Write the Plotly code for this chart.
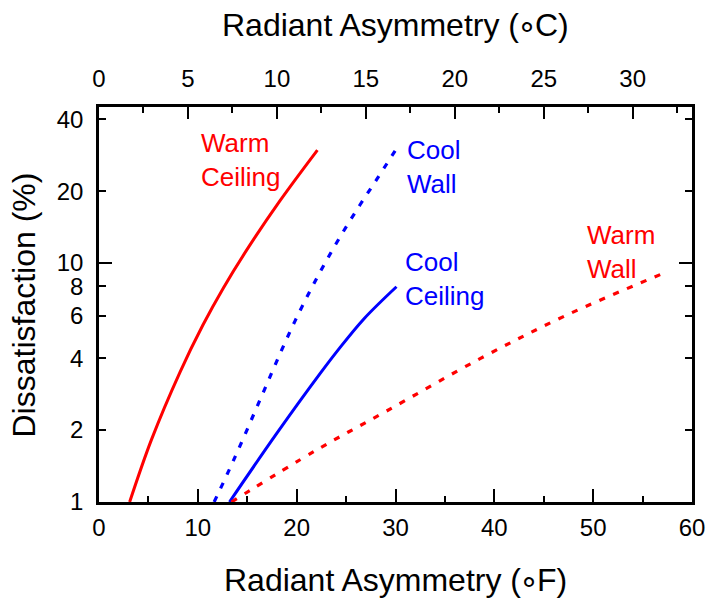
import math
import plotly.graph_objects as go

# ---- data ----
warm_ceiling_F = [3.1, 5.3, 8.2, 10.5, 12.6, 15.1, 18.3, 22.1]
warm_ceiling_D = [1.0, 1.82, 3.50, 5.49, 7.89, 11.6, 18.2, 29.7]

cool_wall_F = [11.65, 13.6, 16.3, 18.5, 19.84, 21.36, 22.9, 24.6, 26.4, 28.1, 29.96]
cool_wall_D = [1.0, 1.49, 2.68, 4.34, 5.73, 7.66, 10.05, 13.3, 17.5, 22.4, 29.5]

cool_ceiling_F = [13.2, 18.0, 22.4, 24.2, 26.75, 30.1]
cool_ceiling_D = [1.0, 1.94, 3.46, 4.33, 5.81, 7.96]

warm_wall_F = [13.4, 22.0, 29.0, 38.6, 47.3, 57.1]
warm_wall_D = [1.0, 1.65, 2.39, 3.99, 6.05, 9.06]

y_tickvals = [1, 2, 4, 6, 8, 10, 20, 40]
y_decades = [1, 10]
x_range_F = [0, 60]
x_range_C = [0, 60 * 5 / 9]
y_range = [1, 45]

labels = [
    # text, x (°F), y (%), colour
    ("Warm<br>Ceiling", 10.1, 27.0, "#ff0000"),
    ("Cool<br>Wall", 30.96, 25.3, "#0000ff"),
    ("Cool<br>Ceiling", 30.73, 8.55, "#0000ff"),
    ("Warm<br>Wall", 49.17, 11.1, "#ff0000"),
]

FONT = "Liberation Sans, Arial, sans-serif"
RED = "#ff0000"
BLUE = "#0000ff"
DOTS = "6px,9px"

fig = go.Figure()
fig.add_trace(go.Scatter(x=warm_ceiling_F, y=warm_ceiling_D, mode="lines",
                         line=dict(color=RED, width=3, shape="spline", smoothing=1), showlegend=False))
fig.add_trace(go.Scatter(x=cool_wall_F, y=cool_wall_D, mode="lines",
                         line=dict(color=BLUE, width=3.2, dash=DOTS, shape="spline", smoothing=1), showlegend=False))
fig.add_trace(go.Scatter(x=cool_ceiling_F, y=cool_ceiling_D, mode="lines",
                         line=dict(color=BLUE, width=3, shape="spline", smoothing=1), showlegend=False))
fig.add_trace(go.Scatter(x=warm_wall_F, y=warm_wall_D, mode="lines",
                         line=dict(color=RED, width=3.2, dash=DOTS, shape="spline", smoothing=1), showlegend=False))
# empty trace so the top (°C) axis and the decade-tick axis are drawn
fig.add_trace(go.Scatter(x=[None], y=[None], xaxis="x2", yaxis="y2",
                         showlegend=False, hoverinfo="skip"))

axis_common = dict(showgrid=False, zeroline=False, showline=True, linecolor="black",
                   linewidth=2.5, ticks="inside", tickcolor="black", tickwidth=2,
                   automargin=False,
                   tickfont=dict(family=FONT, size=24, color="black"))

fig.update_layout(
    width=708, height=600,
    margin=dict(l=99, r=16, t=107, b=98),
    paper_bgcolor="white", plot_bgcolor="white",
    font=dict(family=FONT, color="black"),
    xaxis=dict(range=x_range_F, tickmode="linear", tick0=0, dtick=10, ticklen=13,
               minor=dict(ticks="inside", dtick=5, tick0=0, ticklen=6, tickwidth=2, tickcolor="black"),
               ticklabelstandoff=2, anchor="y", **axis_common),
    xaxis2=dict(range=x_range_C, overlaying="x", side="top", anchor="y",
                tickmode="linear", tick0=0, dtick=5, ticklen=12,
                minor=dict(ticks="inside", dtick=2.5, tick0=0, ticklen=6, tickwidth=2, tickcolor="black"),
                ticklabelstandoff=8, **axis_common),
    yaxis=dict(type="log", range=[math.log10(y_range[0]), math.log10(y_range[1])],
               tickmode="array", tickvals=y_tickvals, ticktext=[str(v) for v in y_tickvals],
               ticklen=7, mirror="allticks", ticklabelstandoff=8, anchor="x", **axis_common),
    yaxis2=dict(type="log", range=[math.log10(y_range[0]), math.log10(y_range[1])],
                overlaying="y", side="left", anchor="x",
                tickmode="array", tickvals=y_decades, ticklen=13, showticklabels=False,
                mirror="allticks", **axis_common),
)

deg = "<span style='letter-spacing:-2px'>(∘</span>"
annotations = [
    dict(text="Radiant Asymmetry " + deg + "C)", xref="paper", yref="paper", x=0.5, y=1.2076,
         xanchor="center", yanchor="middle", showarrow=False,
         font=dict(family=FONT, size=32, color="black")),
    dict(text="Radiant Asymmetry " + deg + "F)", xref="paper", yref="paper", x=0.5, y=-0.1975,
         xanchor="center", yanchor="middle", showarrow=False,
         font=dict(family=FONT, size=32, color="black")),
    dict(text="Dissatisfaction (%)", xref="paper", yref="paper", x=-0.1265, y=0.5,
         xanchor="center", yanchor="middle", textangle=-90, showarrow=False,
         font=dict(family=FONT, size=32, color="black")),
]
for text, xf, yd, col in labels:
    annotations.append(dict(text=text, x=xf, y=math.log10(yd), xref="x", yref="y",
                            xanchor="left", yanchor="middle", align="left", showarrow=False,
                            font=dict(family=FONT, size=26, color=col)))
fig.update_layout(annotations=annotations)

fig.write_html("out.html", config={"displayModeBar": False},
               post_script="document.body.style.margin='0';document.body.style.overflow='hidden';")
